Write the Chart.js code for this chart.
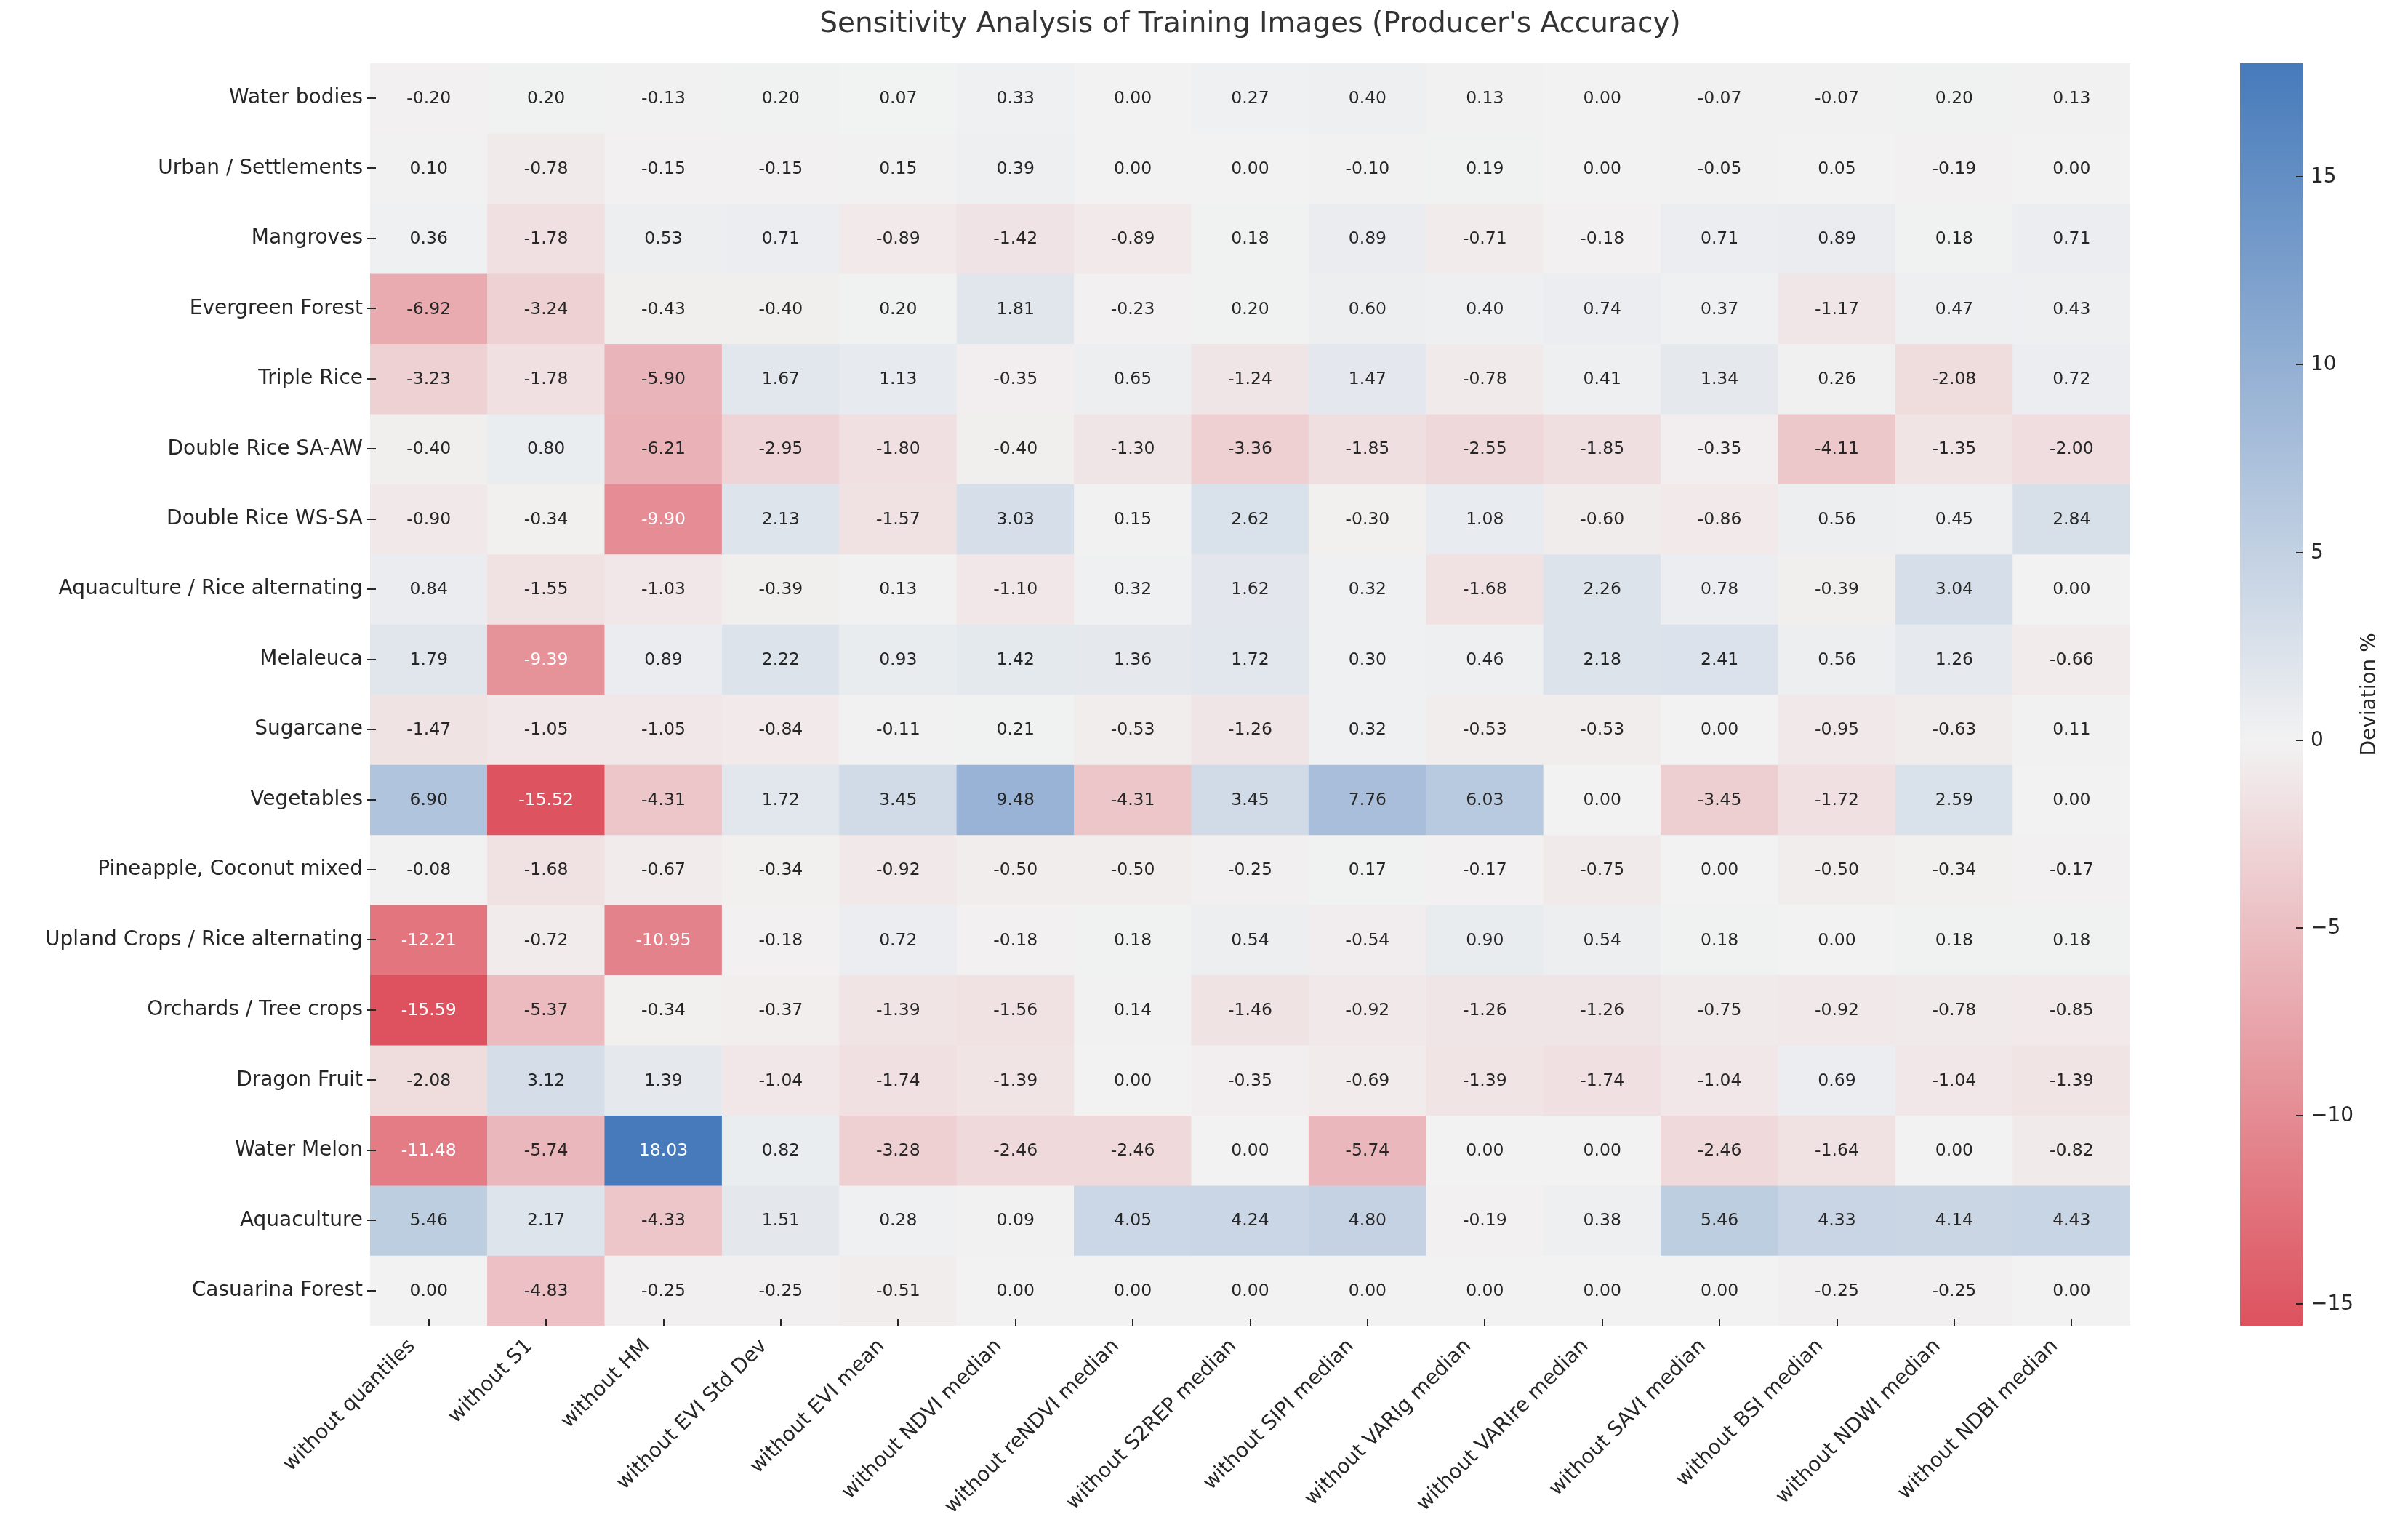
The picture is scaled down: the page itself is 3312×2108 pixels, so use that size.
<!DOCTYPE html>
<html>
<head>
<meta charset="utf-8">
<script src="https://cdn.jsdelivr.net/npm/chart.js@4.4.1/dist/chart.umd.min.js"></script>
<style>
  html, body { margin: 0; padding: 0; background: #fff; }
  canvas { display: block; }
</style>
</head>
<body>
<canvas id="heatmap" width="3312" height="2108"></canvas>
<script>
/* **** DATA **** */

const features = ['without quantiles', 'without S1', 'without HM', 'without EVI Std Dev', 'without EVI mean',
  'without NDVI median', 'without reNDVI median', 'without S2REP median', 'without SIPI median',
  'without VARIg median', 'without VARIre median', 'without SAVI median', 'without BSI median',
  'without NDWI median', 'without NDBI median'];

const classes = ['Water bodies', 'Urban / Settlements', 'Mangroves', 'Evergreen Forest', 'Triple Rice',
  'Double Rice SA-AW', 'Double Rice WS-SA', 'Aquaculture / Rice alternating', 'Melaleuca', 'Sugarcane',
  'Vegetables', 'Pineapple, Coconut mixed', 'Upland Crops / Rice alternating', 'Orchards / Tree crops',
  'Dragon Fruit', 'Water Melon', 'Aquaculture', 'Casuarina Forest'];

const waterBodies    = [-0.20, 0.20, -0.13, 0.20, 0.07, 0.33, 0.00, 0.27, 0.40, 0.13, 0.00, -0.07, -0.07, 0.20, 0.13];
const urban          = [0.10, -0.78, -0.15, -0.15, 0.15, 0.39, 0.00, 0.00, -0.10, 0.19, 0.00, -0.05, 0.05, -0.19, 0.00];
const mangroves      = [0.36, -1.78, 0.53, 0.71, -0.89, -1.42, -0.89, 0.18, 0.89, -0.71, -0.18, 0.71, 0.89, 0.18, 0.71];
const evergreen      = [-6.92, -3.24, -0.43, -0.40, 0.20, 1.81, -0.23, 0.20, 0.60, 0.40, 0.74, 0.37, -1.17, 0.47, 0.43];
const tripleRice     = [-3.23, -1.78, -5.90, 1.67, 1.13, -0.35, 0.65, -1.24, 1.47, -0.78, 0.41, 1.34, 0.26, -2.08, 0.72];
const doubleRiceSaAw = [-0.40, 0.80, -6.21, -2.95, -1.80, -0.40, -1.30, -3.36, -1.85, -2.55, -1.85, -0.35, -4.11, -1.35, -2.00];
const doubleRiceWsSa = [-0.90, -0.34, -9.90, 2.13, -1.57, 3.03, 0.15, 2.62, -0.30, 1.08, -0.60, -0.86, 0.56, 0.45, 2.84];
const aquaRice       = [0.84, -1.55, -1.03, -0.39, 0.13, -1.10, 0.32, 1.62, 0.32, -1.68, 2.26, 0.78, -0.39, 3.04, 0.00];
const melaleuca      = [1.79, -9.39, 0.89, 2.22, 0.93, 1.42, 1.36, 1.72, 0.30, 0.46, 2.18, 2.41, 0.56, 1.26, -0.66];
const sugarcane      = [-1.47, -1.05, -1.05, -0.84, -0.11, 0.21, -0.53, -1.26, 0.32, -0.53, -0.53, 0.00, -0.95, -0.63, 0.11];
const vegetables     = [6.90, -15.52, -4.31, 1.72, 3.45, 9.48, -4.31, 3.45, 7.76, 6.03, 0.00, -3.45, -1.72, 2.59, 0.00];
const pineapple      = [-0.08, -1.68, -0.67, -0.34, -0.92, -0.50, -0.50, -0.25, 0.17, -0.17, -0.75, 0.00, -0.50, -0.34, -0.17];
const uplandCrops    = [-12.21, -0.72, -10.95, -0.18, 0.72, -0.18, 0.18, 0.54, -0.54, 0.90, 0.54, 0.18, 0.00, 0.18, 0.18];
const orchards       = [-15.59, -5.37, -0.34, -0.37, -1.39, -1.56, 0.14, -1.46, -0.92, -1.26, -1.26, -0.75, -0.92, -0.78, -0.85];
const dragonFruit    = [-2.08, 3.12, 1.39, -1.04, -1.74, -1.39, 0.00, -0.35, -0.69, -1.39, -1.74, -1.04, 0.69, -1.04, -1.39];
const waterMelon     = [-11.48, -5.74, 18.03, 0.82, -3.28, -2.46, -2.46, 0.00, -5.74, 0.00, 0.00, -2.46, -1.64, 0.00, -0.82];
const aquaculture    = [5.46, 2.17, -4.33, 1.51, 0.28, 0.09, 4.05, 4.24, 4.80, -0.19, 0.38, 5.46, 4.33, 4.14, 4.43];
const casuarina      = [0.00, -4.83, -0.25, -0.25, -0.51, 0.00, 0.00, 0.00, 0.00, 0.00, 0.00, 0.00, -0.25, -0.25, 0.00];

const deviations = [waterBodies, urban, mangroves, evergreen, tripleRice, doubleRiceSaAw, doubleRiceWsSa,
  aquaRice, melaleuca, sugarcane, vegetables, pineapple, uplandCrops, orchards, dragonFruit, waterMelon,
  aquaculture, casuarina];

const cbTicks = [-15, -10, -5, 0, 5, 10, 15];

/* **** COLOURS **** */

const vmin = Math.min(...deviations.flat());
const vmax = Math.max(...deviations.flat());
const vrange = Math.max(vmax, -vmin); // centred on 0

const RED = [218, 57, 71], MID = [242, 242, 242], BLUE = [70, 122, 187];

function rgbFor(v) {
  const t = (v + vrange) / (2 * vrange);
  let a, b, f;
  if (t < 0.5) { a = RED; b = MID; f = t / 0.5; }
  else { a = MID; b = BLUE; f = (t - 0.5) / 0.5; }
  return a.map((c, k) => Math.round(c + (b[k] - c) * f));
}
const css = c => `rgb(${c[0]},${c[1]},${c[2]})`;

function textColor(v) {
  const lin = c => { c /= 255; return c <= 0.03928 ? c / 12.92 : Math.pow((c + 0.055) / 1.055, 2.4); };
  const [r, g, b] = rgbFor(v);
  const lum = 0.2126 * lin(r) + 0.7152 * lin(g) + 0.0722 * lin(b);
  return lum > 0.408 ? '#262626' : '#ffffff';
}

/* **** MAIN **** */

const FONT = '"DejaVu Sans"';
const INK = '#262626';
Chart.defaults.font.family = FONT;

// annotations, tick marks and the colour bar
const heatmapDecor = {
  id: 'heatmapDecor',
  afterDatasetsDraw(chart) {
    const { ctx, chartArea } = chart;
    ctx.save();

    ctx.font = `23.5px ${FONT}`;
    ctx.textAlign = 'center';
    ctx.textBaseline = 'middle';
    chart.data.datasets.forEach((ds, i) => {
      chart.getDatasetMeta(i).data.forEach((bar, j) => {
        const v = deviations[i][j];
        const p = bar.getCenterPoint();
        ctx.fillStyle = textColor(v);
        ctx.fillText(v.toFixed(2), p.x, p.y + 1);
      });
    });

    ctx.strokeStyle = INK;
    ctx.lineWidth = 2;
    const xs = chart.scales.x, ys = chart.scales.y;
    xs.ticks.forEach((t, k) => {
      const x = Math.round(xs.getPixelForTick(k));
      ctx.beginPath(); ctx.moveTo(x, chartArea.bottom - 9); ctx.lineTo(x, chartArea.bottom); ctx.stroke();
    });
    ys.ticks.forEach((t, k) => {
      const y = Math.round(ys.getPixelForTick(k));
      ctx.beginPath(); ctx.moveTo(chartArea.left - 4, y); ctx.lineTo(chartArea.left + 8, y); ctx.stroke();
    });

    // colour bar on its own hidden scale
    const cb = chart.scales.cb;
    const x0 = chartArea.right + 151, w = 86;
    const yTop = cb.getPixelForValue(vmax), yBot = cb.getPixelForValue(vmin);
    const grad = ctx.createLinearGradient(0, yTop, 0, yBot);
    [vmax, 0, vmin].forEach(v => grad.addColorStop((cb.getPixelForValue(v) - yTop) / (yBot - yTop), css(rgbFor(v))));
    ctx.fillStyle = grad;
    ctx.fillRect(x0, yTop, w, yBot - yTop);

    ctx.font = `28px ${FONT}`;
    ctx.textAlign = 'left';
    ctx.fillStyle = INK;
    cbTicks.forEach(v => {
      const y = Math.round(cb.getPixelForValue(v));
      ctx.beginPath(); ctx.moveTo(x0 + w - 9, y); ctx.lineTo(x0 + w, y); ctx.stroke();
      ctx.fillText(String(v).replace('-', '\u2212'), x0 + w + 11, y + 1);
    });

    ctx.translate(chartArea.right + 330, (yTop + yBot) / 2);
    ctx.rotate(-Math.PI / 2);
    ctx.textAlign = 'center';
    ctx.fillText('Deviation %', 0, 0);

    ctx.restore();
  }
};

const canvas = document.getElementById('heatmap');
const chart = new Chart(canvas, {
  type: 'bar',
  data: {
    labels: features,
    datasets: classes.map((name, i) => ({
      label: name,
      data: deviations[i].map(() => [i, i + 1]),
      backgroundColor: deviations[i].map(v => css(rgbFor(v))),
      borderWidth: 0,
      grouped: false,
      barPercentage: 1,
      categoryPercentage: 1
    }))
  },
  options: {
    responsive: false,
    devicePixelRatio: 1,
    animation: false,
    events: [],
    layout: { padding: { top: 0, right: 382, bottom: 0, left: 0 } },
    plugins: {
      legend: { display: false },
      tooltip: { enabled: false },
      title: {
        display: true,
        fullSize: false,
        text: "Sensitivity Analysis of Training Images (Producer's Accuracy)",
        color: '#333333',
        font: { size: 39, weight: 'normal' },
        padding: { top: 10, bottom: 30 }
      }
    },
    scales: {
      x: {
        type: 'category',
        offset: true,
        grid: { display: false, drawTicks: false },
        border: { display: false },
        ticks: { autoSkip: false, minRotation: 45, maxRotation: 45, padding: 12, labelOffset: -23,
                 color: INK, font: { size: 28 } },
        afterFit(s) { s.height = 285; }
      },
      y: {
        type: 'linear',
        min: 0,
        max: classes.length,
        reverse: true,
        grid: { display: false, drawTicks: false },
        border: { display: false },
        afterBuildTicks(s) { s.ticks = classes.map((c, i) => ({ value: i + 0.5 })); },
        ticks: { autoSkip: false, padding: 10, color: INK, font: { size: 28 },
                 callback: (v, i) => classes[i] },
        afterFit(s) { s.width = 509; }
      },
      cb: {
        type: 'linear',
        display: false,
        position: 'right',
        min: vmin,
        max: vmax
      }
    }
  },
  plugins: [heatmapDecor]
});
</script>
</body>
</html>
